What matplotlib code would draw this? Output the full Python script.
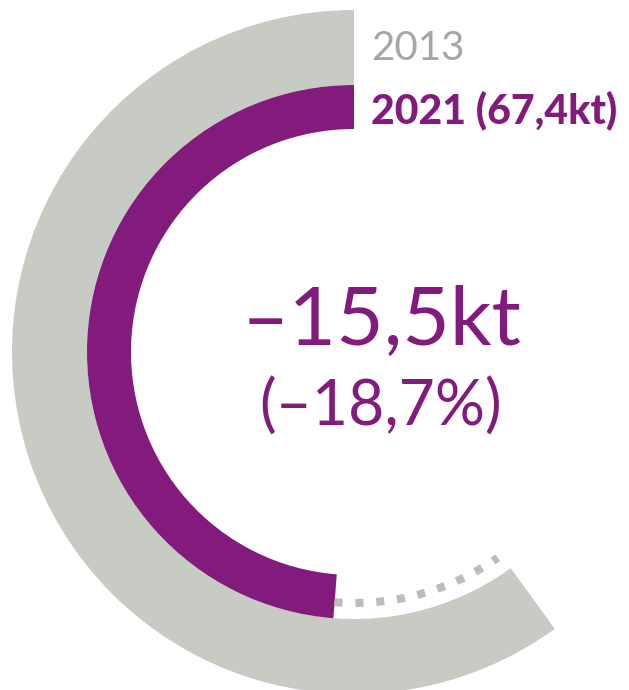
import numpy as np
import matplotlib.pyplot as plt
from matplotlib.patches import Wedge

plt.rcParams['font.family'] = ['Lato', 'DejaVu Sans']
plt.rcParams['lines.scale_dashes'] = False

# data
years = ['2013', '2021']
values = [82.9, 67.4]          # kt
change_kt = '–15,5kt'
change_pct = '(–18,7%)'
label_2021 = '2021 (67,4kt)'
full_scale = 138.2              # value for a full circle

grey = '#c8cac4'
purple = '#831b7d'
dot_grey = '#bdbdbd'

fig = plt.figure(figsize=(6.29, 6.9), dpi=100)
ax = fig.add_axes([0, 0, 1, 1])
ax.set_xlim(0, 629)
ax.set_ylim(0, 690)
ax.set_aspect('equal')
ax.axis('off')

cx, cy = 354, 338
start = 90

def ang(v):
    return start + v / full_scale * 360

# outer ring 2013
ax.add_patch(Wedge((cx, cy), 342, start, ang(values[0]), width=75, color=grey, lw=0))
# inner ring 2021
ax.add_patch(Wedge((cx, cy), 267, start, ang(values[1]), width=44, color=purple, lw=0))

# dotted difference
t = np.radians(np.linspace(ang(values[1]), ang(values[0]) - 1, 200))
r = 251
ax.plot(cx + r * np.cos(t), cy + r * np.sin(t), color=dot_grey, lw=5.8,
        dashes=(5.8, 9.2), solid_capstyle='butt', dash_capstyle='butt')

# labels
ax.text(371, 630, years[0], fontsize=29, color='#a6a6a6', ha='left', va='baseline')
ax.text(371, 567, label_2021, fontsize=29.5, color=purple, fontweight='black',
        ha='left', va='baseline')

ax.text(382, 345, change_kt, fontsize=59, color=purple, ha='center', va='baseline')
ax.text(381, 264, change_pct, fontsize=45, color=purple, ha='center', va='baseline')

fig.savefig('out.png', dpi=100)
